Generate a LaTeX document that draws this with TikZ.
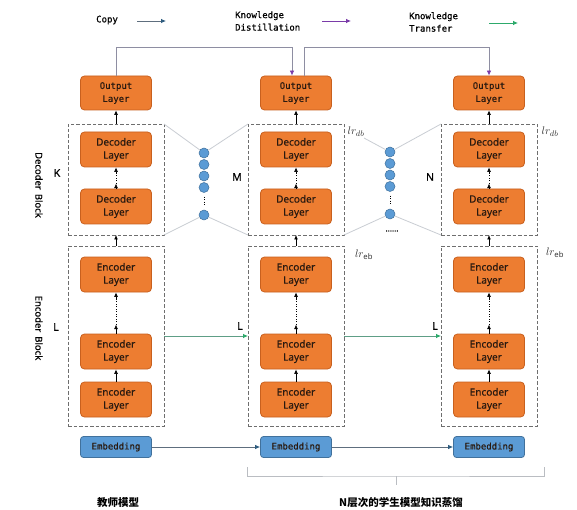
\documentclass[tikz,border=0pt]{standalone}
\usepackage{fontspec}
\setmainfont{Noto Sans}
\newfontfamily\monof{DejaVu Sans Mono}[FakeBold=0.5]
\newfontfamily\boxf{Noto Sans}[FakeBold=0.5]
\newfontfamily\cjk{Noto Sans CJK SC}
\usetikzlibrary{arrows.meta,calc}
\definecolor{org}{HTML}{ED7D31}
\definecolor{brd}{HTML}{C8601E}
\definecolor{txt}{HTML}{2A1A10}
\definecolor{eblue}{HTML}{5B9BD5}
\definecolor{ebrd}{HTML}{41719C}
\definecolor{dgray}{HTML}{6E6E6E}
\definecolor{lgray}{HTML}{C9CDD3}
\definecolor{kdpurple}{HTML}{7A3BA8}
\definecolor{kdline}{HTML}{8E8EA2}
\definecolor{ktgreen}{HTML}{2DAA6B}
\definecolor{ktline}{HTML}{5E9E86}
\definecolor{cpblue}{HTML}{2F5D80}
\definecolor{cpline}{HTML}{5E6E7E}
\tikzset{
  layer/.style={draw=brd, fill=org, rounded corners=4pt, line width=0.8pt,
    minimum width=71pt, minimum height=35pt, align=center, inner sep=0pt,
    font=\boxf\fontsize{10}{13}\selectfont, text=txt},
  outl/.style={layer, minimum height=34pt, font=\monof\fontsize{9}{13}\selectfont},
  emb/.style={draw=ebrd, fill=eblue, rounded corners=3pt, line width=0.8pt,
    minimum width=71pt, minimum height=21pt, inner sep=0pt,
    font=\monof\fontsize{9}{10}\selectfont, text=txt},
  dbox/.style={draw=dgray, dash pattern=on 3.5pt off 2pt, line width=0.9pt,
    minimum width=96pt, inner sep=0pt, outer sep=0pt},
  tip/.style={-{Latex[length=4.5pt,width=3.8pt]}, line width=0.6pt, black},
  dotl/.style={line width=0.9pt, dash pattern=on 0.9pt off 1.6pt, black},
  circ/.style={circle, fill=eblue, draw=ebrd, line width=0.5pt, minimum size=10pt, inner sep=0pt},
  glin/.style={draw=lgray, line width=0.8pt},
  kd/.style={draw=kdline, line width=0.8pt, -{Latex[length=5pt,width=4.5pt,color=kdpurple]}},
  kt/.style={draw=ktline, line width=0.8pt, -{Latex[length=5pt,width=4.5pt,color=ktgreen]}},
  cp/.style={draw=cpline, line width=0.8pt, -{Latex[length=5pt,width=4.5pt,color=cpblue]}},
  lbl/.style={font=\boxf\fontsize{10.5}{12}\selectfont, inner sep=0pt},
  lrl/.style={font=\fontsize{11}{12}\selectfont, inner sep=0pt, text=black!80},
  leg/.style={font=\monof\fontsize{9}{12.5}\selectfont, align=left, anchor=west, inner sep=0pt},
}
\begin{document}
\begin{tikzpicture}[x=1pt,y=-1pt]
\useasboundingbox (0,0) rectangle (577,510);
\fill[white] (0,0) rectangle (577,510);

% legend
\node[leg] (lcopy) at (96,20) {Copy};
\coordinate (lca) at (137,21); \coordinate (lcb) at (166,21);
\draw[cp] (lca) -- (lcb);
\node[leg] (lkd) at (235,21) {Knowledge\\Distillation};
\coordinate (lka) at (322,21); \coordinate (lkb) at (351,21);
\draw[kd, draw=kdpurple] (lka) -- (lkb);
\node[leg] (lkt) at (409,22) {Knowledge\\Transfer};
\coordinate (lta) at (489,23); \coordinate (ltb) at (518,23);
\draw[kt, draw=ktgreen] (lta) -- (ltb);

% columns
\foreach \c/\x in {t/116, m/296, r/489}{
  \node[outl] (\c out) at (\x,93) {Output\\Layer};
  \node[dbox, minimum height=111pt] (\c db) at (\x,179.5) {};
  \node[dbox, minimum height=180pt] (\c eb) at (\x,336) {};
  \node[layer] (\c d1) at (\x,149.5) {Decoder\\Layer};
  \node[layer] (\c d2) at (\x,206.5) {Decoder\\Layer};
  \node[layer] (\c e1) at (\x,274.5) {Encoder\\Layer};
  \node[layer] (\c e2) at (\x,351.5) {Encoder\\Layer};
  \node[layer] (\c e3) at (\x,399.5) {Encoder\\Layer};
  \node[emb] (\c emb) at (\x,447) {Embedding};
  % inner arrows
  \draw[tip] (\c db.north) -- (\c out.south);
  \draw[tip] (\c eb.north) -- (\c db.south);
  \draw[dotl] ($(\c d2.north)+(0,-5)$) -- ($(\c d1.south)+(0,6)$);
  \draw[tip] (\c d2.north) -- ++(0,-5);
  \draw[tip] ($(\c d1.south)+(0,6)$) -- (\c d1.south);
  \draw[dotl] ($(\c e2.north)+(0,-9)$) -- ($(\c e1.south)+(0,8)$);
  \draw[tip] (\c e2.north) -- ++(0,-9);
  \draw[tip] ($(\c e1.south)+(0,8)$) -- (\c e1.south);
  \draw[tip] (\c e3.north) -- (\c e2.south);
}

% circles between teacher and middle
\node[circ] (c1a) at (204,153) {};
\node[circ] (c1b) at (204,164.5) {};
\node[circ] (c1c) at (204,176) {};
\node[circ] (c1d) at (204,187.5) {};
\node[circ] (c1e) at (204,215) {};
\draw[dotl] ($(c1d.south)+(0,4)$) -- ($(c1e.north)+(0,-4)$);
\draw[glin] (tdb.north east) -- (c1a);
\draw[glin] (c1a) -- (mdb.north west);
\draw[glin] (tdb.south east) -- (c1e);
\draw[glin] (c1e) -- (mdb.south west);

% circles between middle and right
\node[circ] (c2a) at (390,152) {};
\node[circ] (c2b) at (390,163.5) {};
\node[circ] (c2c) at (390,175) {};
\node[circ] (c2d) at (390,186.5) {};
\node[circ] (c2e) at (390,214) {};
\draw[dotl] ($(c2d.south)+(0,4)$) -- ($(c2e.north)+(0,-4)$);
\draw[glin] ($(mdb.north east)+(20,14)$) -- (c2a);
\draw[glin] (c2a) -- (rdb.north west);
\draw[glin] (mdb.south east) -- (c2e);
\draw[glin] (c2e) -- (rdb.south west);
\node[font=\boxf\fontsize{8}{8}\selectfont, inner sep=0pt] (dots) at (392,231) {......};

% side labels
\node[lbl, rotate=-90, font=\boxf\fontsize{9.5}{11}\selectfont] (decb) at (39,185) {Decoder\hspace{4pt}Block};
\node[lbl, rotate=-90, font=\boxf\fontsize{9.5}{11}\selectfont] (encb) at (39,328) {Encoder\hspace{4pt}Block};
\node[lbl] (kk) at (57,173) {K};
\node[lbl] (mm) at (237,177) {M};
\node[lbl] (nn) at (430,177) {N};
\node[lbl] (l1) at (56,327) {L};
\node[lbl] (l2) at (240,326) {L};
\node[lbl] (l3) at (435,326) {L};
\node[lrl] (lrd1) at (356,132) {$lr_{db}$};
\node[lrl] (lrd2) at (550,132) {$lr_{db}$};
\node[lrl] (lre1) at (364,255) {$lr_{\mathrm{eb}}$};
\node[lrl] (lre2) at (555,253) {$lr_{\mathrm{eb}}$};

% top connectors (knowledge distillation)
\draw[kd] (tout.north) -- ++(0,-28) -| ([xshift=-4pt]mout.north);
\draw[kd] ([xshift=8pt]mout.north) -- ++(0,-28) -| (rout.north);

% knowledge transfer
\draw[kt] (teb.east) -- (meb.west);
\draw[kt] (meb.east) -- (reb.west);

% copy
\draw[cp] (temb) -- (memb);
\draw[cp] (memb) -- (remb);

% brace
\coordinate (bl) at (247,467);
\coordinate (br) at (544,467);
\coordinate (bm) at (396,476);
\coordinate (bt) at (396,485);
\draw[draw=lgray!80!gray, line width=0.8pt] (bl) |- (bm) -| (br);
\draw[draw=lgray!80!gray, line width=0.8pt] (bm) -- (bt);

\node[font=\cjk\bfseries\fontsize{10.5}{12}\selectfont, inner sep=0pt] (tm) at (118,503) {教师模型};
\node[font=\cjk\bfseries\fontsize{10.5}{12}\selectfont, inner sep=0pt] (sm) at (401,503) {N层次的学生模型知识蒸馏};
\end{tikzpicture}
\end{document}
